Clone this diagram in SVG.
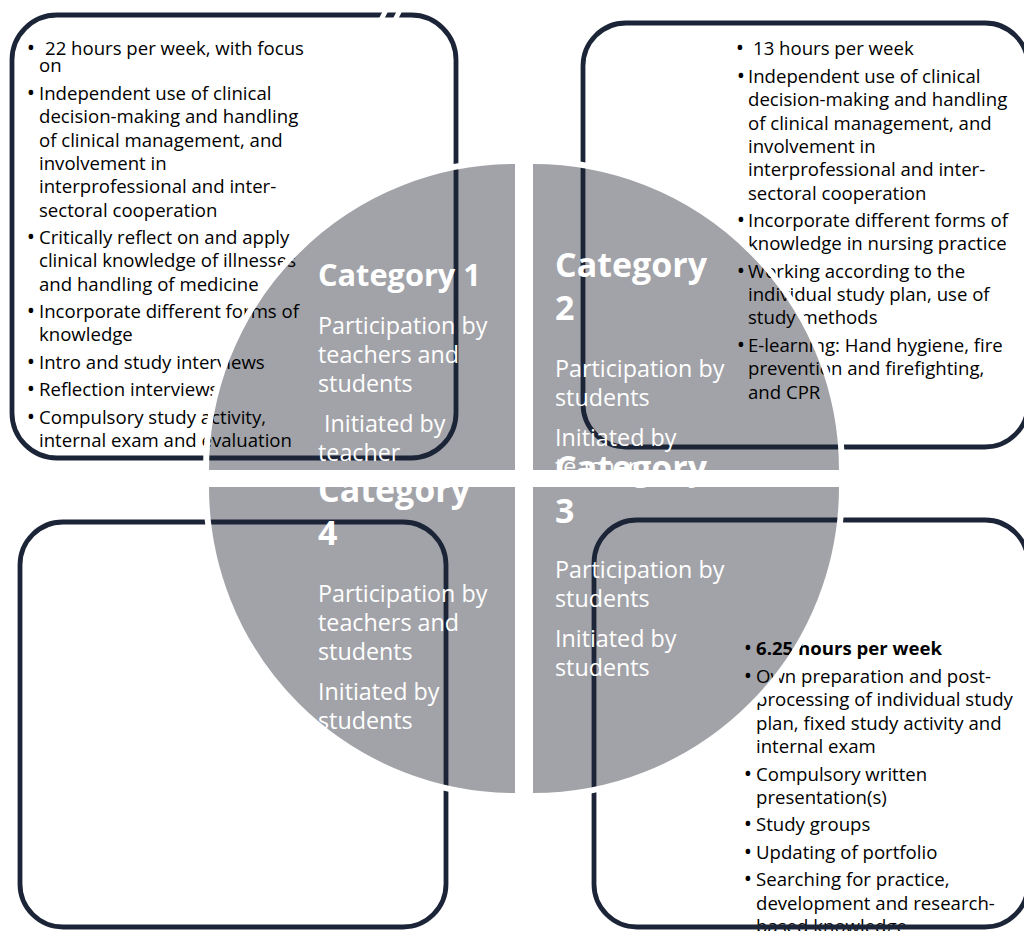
<svg xmlns="http://www.w3.org/2000/svg" width="1024" height="931" viewBox="0 0 1024 931">
<style>
.q{fill:#a2a3a8}
.arc{fill:none;stroke:#ffffff;stroke-width:6}
.box{fill:none;stroke:#1c2538;stroke-width:4.8}
.t{font-family:"Open Sans","Liberation Sans",sans-serif;font-size:18.6px;fill:#000000}
.bu{font-size:22px}
.b{font-weight:bold}
.ct{font-family:"Open Sans","Liberation Sans",sans-serif;font-weight:bold;font-size:34px;fill:#ffffff}
.ct1{font-size:30.7px}
.cs{font-family:"Open Sans","Liberation Sans",sans-serif;font-size:23.3px;fill:#ffffff}
</style>
<rect width="1024" height="931" fill="#ffffff"/>
<g id="quadrants">
<path class="q" d="M515,470 L206,470 A309,309 0 0 1 515,161 Z"/>
<path class="q" d="M533,470 L533,161 A309,309 0 0 1 842,470 Z"/>
<path class="q" d="M533,487 L842,487 A309,309 0 0 1 533,796 Z"/>
<path class="q" d="M515,487 L515,796 A309,309 0 0 1 206,487 Z"/>
</g>
<g id="box1">
<g class="t">
<text class="bu" x="31" y="55" text-anchor="middle">•</text><text x="45" y="55">22 hours per week, with focus</text>
<text x="39" y="72">on</text>
<text class="bu" x="31" y="100" text-anchor="middle">•</text><text x="39" y="100">Independent use of clinical</text>
<text x="39" y="123.3">decision-making and handling</text>
<text x="39" y="146.6">of clinical management, and</text>
<text x="39" y="170">involvement in</text>
<text x="39" y="193.2">interprofessional and inter-</text>
<text x="39" y="216.5">sectoral cooperation</text>
<text class="bu" x="31" y="244" text-anchor="middle">•</text><text x="39" y="244">Critically reflect on and apply</text>
<text x="39" y="267.3">clinical knowledge of illnesses</text>
<text x="39" y="290.6">and handling of medicine</text>
<text class="bu" x="31" y="318" text-anchor="middle">•</text><text x="39" y="318">Incorporate different forms of</text>
<text x="39" y="341.3">knowledge</text>
<text class="bu" x="31" y="368.8" text-anchor="middle">•</text><text x="39" y="368.8">Intro and study interviews</text>
<text class="bu" x="31" y="396.3" text-anchor="middle">•</text><text x="39" y="396.3">Reflection interviews</text>
<text class="bu" x="31" y="423.8" text-anchor="middle">•</text><text x="39" y="423.8">Compulsory study activity,</text>
<text x="39" y="447">internal exam and evaluation</text>
</g>
<rect class="box" x="12" y="15" width="444" height="443" rx="45"/>
<path d="M381,20 L386,10 M395,20 L400,10" stroke="#ffffff" stroke-width="5"/>
</g>
<g id="box2">
<g class="t">
<text class="bu" x="740" y="55" text-anchor="middle">•</text><text x="753" y="55">13 hours per week</text>
<text class="bu" x="741" y="83" text-anchor="middle">•</text><text x="748" y="83">Independent use of clinical</text>
<text x="748" y="106.3">decision-making and handling</text>
<text x="748" y="129.6">of clinical management, and</text>
<text x="748" y="153">involvement in</text>
<text x="748" y="176.2">interprofessional and inter-</text>
<text x="748" y="199.5">sectoral cooperation</text>
<text class="bu" x="741" y="227" text-anchor="middle">•</text><text x="748" y="227">Incorporate different forms of</text>
<text x="748" y="250.3">knowledge in nursing practice</text>
<text class="bu" x="741" y="277.8" text-anchor="middle">•</text><text x="748" y="277.8">Working according to the</text>
<text x="748" y="301">individual study plan, use of</text>
<text x="748" y="324.3">study methods</text>
<text class="bu" x="741" y="352" text-anchor="middle">•</text><text x="748" y="352">E-learning: Hand hygiene, fire</text>
<text x="748" y="375.2">prevention and firefighting,</text>
<text x="748" y="398.5">and CPR</text>
</g>
<rect class="box" x="583" y="23" width="445" height="424" rx="43"/>
</g>
<g id="box3">
<g class="t">
<text class="bu" x="748" y="655" text-anchor="middle">•</text><text x="756" y="655" class="b">6.25 hours per week</text>
<text class="bu" x="748" y="683" text-anchor="middle">•</text><text x="756" y="683">Own preparation and post-</text>
<text x="756" y="706.3">processing of individual study</text>
<text x="756" y="729.6">plan, fixed study activity and</text>
<text x="756" y="753">internal exam</text>
<text class="bu" x="748" y="780.5" text-anchor="middle">•</text><text x="756" y="780.5">Compulsory written</text>
<text x="756" y="803.8">presentation(s)</text>
<text class="bu" x="748" y="831.3" text-anchor="middle">•</text><text x="756" y="831.3">Study groups</text>
<text class="bu" x="748" y="858.8" text-anchor="middle">•</text><text x="756" y="858.8">Updating of portfolio</text>
<text class="bu" x="748" y="886.3" text-anchor="middle">•</text><text x="756" y="886.3">Searching for practice,</text>
<text x="756" y="909.6">development and research-</text>
<text x="756" y="933">based knowledge</text>
</g>
<rect class="box" x="594" y="520" width="434" height="407" rx="43"/>
</g>
<g id="box4">
<rect class="box" x="20" y="522" width="426" height="405" rx="43"/>
</g>
<g id="quadrant-outlines">
<path class="arc" d="M206,470 A309,309 0 0 1 515,161"/>
<path class="arc" d="M533,161 A309,309 0 0 1 842,470"/>
<path class="arc" d="M842,487 A309,309 0 0 1 533,796"/>
<path class="arc" d="M515,796 A309,309 0 0 1 206,487"/>
</g>
<g id="cat1">
<text class="ct ct1" x="318" y="286">Category 1</text>
<text class="cs" x="318" y="334">Participation by</text>
<text class="cs" x="318" y="363">teachers and</text>
<text class="cs" x="318" y="392">students</text>
<text class="cs" x="318" y="432" xml:space="preserve"> Initiated by</text>
<text class="cs" x="318" y="461">teacher</text>
</g>
<g id="cat2">
<text class="ct" x="555" y="277">Category</text>
<text class="ct" x="555" y="320">2</text>
<text class="cs" x="555" y="377">Participation by</text>
<text class="cs" x="555" y="406">students</text>
<text class="cs" x="555" y="446">Initiated by</text>
<text class="cs" x="555" y="475">teacher</text>
</g>
<g id="cat3">
<text class="ct" x="555" y="480">Category</text>
<text class="ct" x="555" y="523">3</text>
<text class="cs" x="555" y="578">Participation by</text>
<text class="cs" x="555" y="607">students</text>
<text class="cs" x="555" y="647">Initiated by</text>
<text class="cs" x="555" y="676">students</text>
</g>
<g id="cat4">
<text class="ct" x="318" y="502">Category</text>
<text class="ct" x="318" y="545">4</text>
<text class="cs" x="318" y="602">Participation by</text>
<text class="cs" x="318" y="631">teachers and</text>
<text class="cs" x="318" y="660">students</text>
<text class="cs" x="318" y="700">Initiated by</text>
<text class="cs" x="318" y="729">students</text>
</g>
</svg>
